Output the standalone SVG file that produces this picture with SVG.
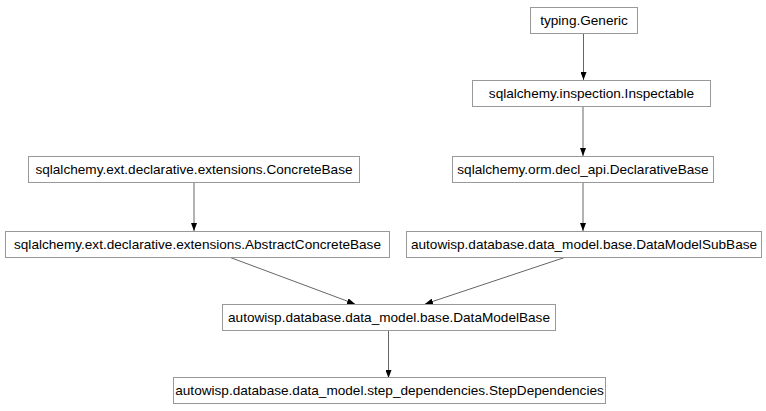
<svg xmlns="http://www.w3.org/2000/svg" width="766" height="411" viewBox="0 0 766 411">
<style>
.box{fill:#fff;stroke:#999;stroke-width:1}
.lbl{font-family:"Liberation Sans",Arial,sans-serif;font-size:13.6px;fill:#000;text-anchor:middle;dominant-baseline:central}
.edge{stroke:#666;stroke-width:1;fill:none}
</style>
<defs>
<marker id="ah" markerWidth="8" markerHeight="6" refX="8" refY="3" orient="auto" markerUnits="userSpaceOnUse">
<path d="M0,0 L8,3 L0,6 Z" fill="#000"/>
</marker>
</defs>
<rect width="766" height="411" fill="#fff"/>
<g id="edges">
<line class="edge" x1="583.5" y1="33" x2="583.5" y2="80" marker-end="url(#ah)"/>
<line class="edge" x1="583" y1="106" x2="583" y2="156" marker-end="url(#ah)"/>
<line class="edge" x1="194" y1="182" x2="194" y2="231" marker-end="url(#ah)"/>
<line class="edge" x1="583" y1="182" x2="583" y2="231" marker-end="url(#ah)"/>
<line class="edge" x1="229" y1="257" x2="355" y2="304" marker-end="url(#ah)"/>
<line class="edge" x1="566" y1="257" x2="425" y2="304" marker-end="url(#ah)"/>
<line class="edge" x1="388.5" y1="330" x2="388.5" y2="378" marker-end="url(#ah)"/>
</g>
<g id="generic"><rect class="box" x="530.5" y="7.5" width="107" height="26"/><text class="lbl" x="584" y="20.5">typing.Generic</text></g>
<g id="inspectable"><rect class="box" x="472.5" y="80.5" width="238" height="26"/><text class="lbl" x="591.5" y="93.5">sqlalchemy.inspection.Inspectable</text></g>
<g id="concretebase"><rect class="box" x="28.5" y="156.5" width="331" height="26"/><text class="lbl" x="194" y="169.5">sqlalchemy.ext.declarative.extensions.ConcreteBase</text></g>
<g id="declarativebase"><rect class="box" x="452.5" y="156.5" width="261" height="26"/><text class="lbl" x="583" y="169.5">sqlalchemy.orm.decl_api.DeclarativeBase</text></g>
<g id="abstractconcretebase"><rect class="box" x="5.5" y="231.5" width="384" height="26"/><text class="lbl" x="197.5" y="244.5">sqlalchemy.ext.declarative.extensions.AbstractConcreteBase</text></g>
<g id="datamodelsubbase"><rect class="box" x="406.5" y="231.5" width="355" height="26"/><text class="lbl" x="584" y="244.5">autowisp.database.data_model.base.DataModelSubBase</text></g>
<g id="datamodelbase"><rect class="box" x="222.5" y="304.5" width="333" height="26"/><text class="lbl" x="389" y="317.5">autowisp.database.data_model.base.DataModelBase</text></g>
<g id="stepdependencies"><rect class="box" x="173.5" y="377.5" width="432" height="26"/><text class="lbl" x="389.5" y="390.5">autowisp.database.data_model.step_dependencies.StepDependencies</text></g>
</svg>
